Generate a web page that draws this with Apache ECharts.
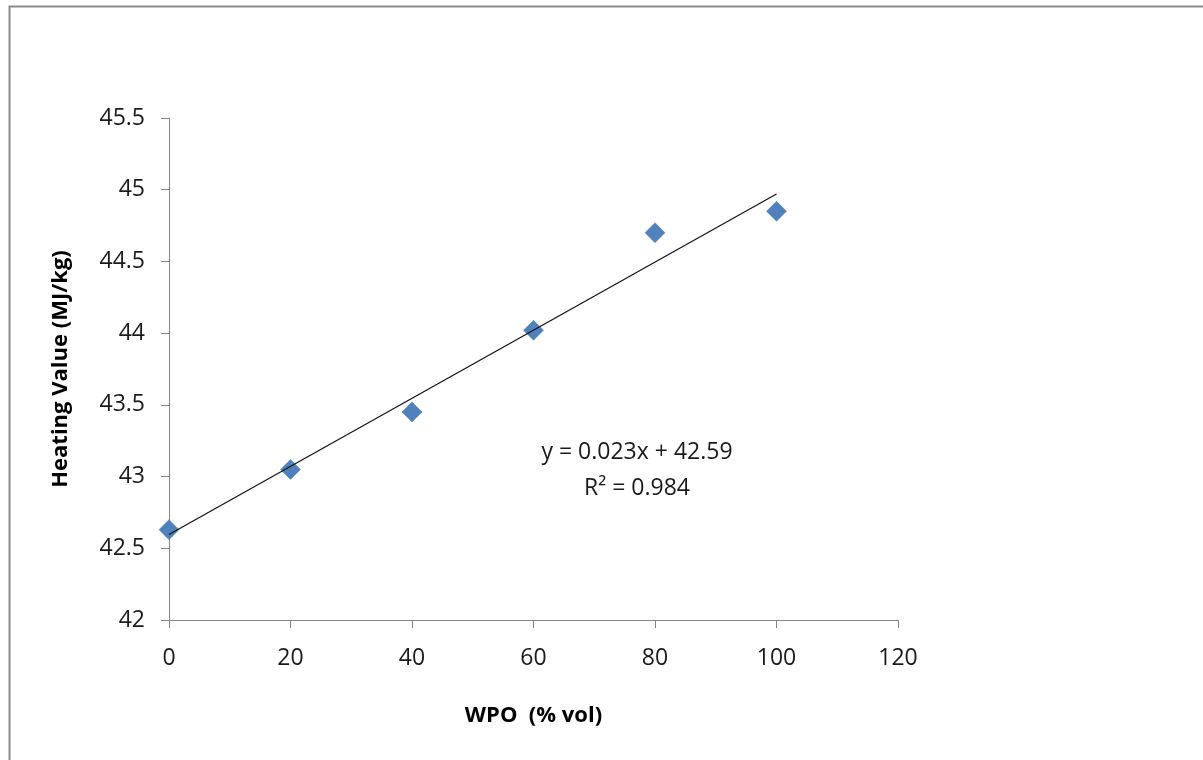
<!DOCTYPE html>
<html>
<head>
<meta charset="utf-8">
<script src="https://cdn.jsdelivr.net/npm/echarts@6/dist/echarts.min.js"></script>
<style>html,body{margin:0;padding:0;background:#fff;}#c{width:1203px;height:760px;}</style>
</head>
<body>
<div id="c"></div>
<script>
const wpo = [0, 20, 40, 60, 80, 100];
const heatingValue = [42.63, 43.05, 43.45, 44.02, 44.70, 44.85];
const xTicks = [0, 20, 40, 60, 80, 100, 120];
const yTicks = [42, 42.5, 43, 43.5, 44, 44.5, 45, 45.5];
const eqText = 'y = 0.023x + 42.59';
const r2Text = 'R\u00b2 = 0.984';

// least-squares trendline from the data
const n = wpo.length;
const mx = wpo.reduce((a, b) => a + b, 0) / n;
const my = heatingValue.reduce((a, b) => a + b, 0) / n;
let sxy = 0, sxx = 0;
for (let i = 0; i < n; i++) { sxy += (wpo[i] - mx) * (heatingValue[i] - my); sxx += (wpo[i] - mx) ** 2; }
const slope = sxy / sxx, icpt = my - slope * mx;
const xMin = Math.min(...wpo), xMax = Math.max(...wpo);
const trend = [[xMin, icpt + slope * xMin], [xMax, icpt + slope * xMax]];

const font = '"Open Sans", sans-serif';
const axisCol = '#868686';
const chart = echarts.init(document.getElementById('c'));
chart.setOption({
  animation: false,
  backgroundColor: '#fff',
  grid: { left: 169, right: 305, top: 118, bottom: 140 },
  xAxis: {
    type: 'value', min: xTicks[0], max: xTicks[xTicks.length - 1], interval: 20,
    name: 'WPO  (% vol)', nameLocation: 'middle', nameGap: 85,
    nameTextStyle: { fontFamily: font, fontSize: 22, fontWeight: 'bold', color: '#000' },
    axisLine: { onZero: false, lineStyle: { color: axisCol, width: 1 } },
    axisTick: { show: true, length: 8, lineStyle: { color: axisCol } },
    axisLabel: { fontFamily: font, fontSize: 23, color: '#1a1a1a', margin: 27 },
    splitLine: { show: false }
  },
  yAxis: {
    type: 'value', min: yTicks[0], max: yTicks[yTicks.length - 1], interval: 0.5,
    name: 'Heating Value (MJ/kg)', nameLocation: 'middle', nameGap: 97, nameRotate: 90,
    nameTextStyle: { fontFamily: font, fontSize: 22, fontWeight: 'bold', color: '#000' },
    axisLine: { show: true, onZero: false, lineStyle: { color: axisCol, width: 1 } },
    axisTick: { show: true, length: 8, lineStyle: { color: axisCol } },
    axisLabel: { fontFamily: font, fontSize: 23, color: '#1a1a1a', margin: 24 },
    splitLine: { show: false }
  },
  series: [
    {
      type: 'scatter', data: wpo.map((x, i) => [x, heatingValue[i]]),
      symbol: 'diamond', symbolSize: 20,
      itemStyle: { color: '#4F81BD', opacity: 1, borderColor: '#4A7EBB', borderWidth: 0.5 }
    },
    {
      type: 'line', data: trend, symbol: 'none', silent: true,
      lineStyle: { color: '#111', width: 1.2 }, z: 3
    }
  ],
  graphic: [
    { type: 'rect', left: 7, top: 4, shape: { x: 0, y: 0, width: 1400, height: 900 },
      style: { fill: 'none', stroke: '#8a8a8a', lineWidth: 2 }, z: 100 },
    { type: 'text', x: 637, y: 452, style: { text: eqText, font: '23px ' + font, fill: '#1a1a1a', align: 'center', verticalAlign: 'middle' } },
    { type: 'text', x: 637, y: 488, style: { text: r2Text, font: '23px ' + font, fill: '#1a1a1a', align: 'center', verticalAlign: 'middle' } }
  ]
});
</script>
</body>
</html>
